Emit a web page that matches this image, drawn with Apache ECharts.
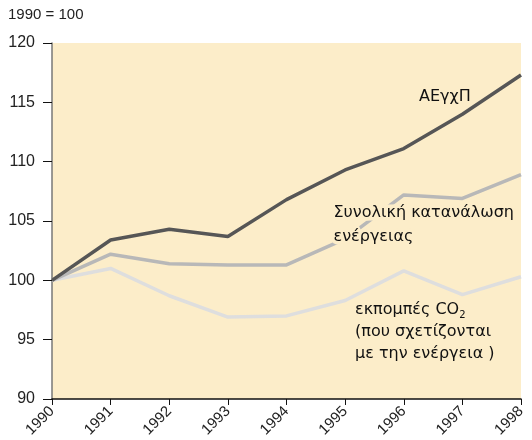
<!DOCTYPE html>
<html>
<head>
<meta charset="utf-8">
<script src="https://cdn.jsdelivr.net/npm/echarts@6/dist/echarts.min.js"></script>
<style>
  html, body { margin: 0; padding: 0; background: #fff; }
  #chart { width: 532px; height: 440px; }
</style>
</head>
<body>
<div id="chart"></div>
<script>
/* δεδομένα (1990 = 100) */
const years = ['1990', '1991', '1992', '1993', '1994', '1995', '1996', '1997', '1998'];
const gdp = [100, 103.4, 104.3, 103.7, 106.8, 109.3, 111.1, 114.0, 117.3];
const energy = [100, 102.2, 101.4, 101.3, 101.3, 103.5, 107.2, 106.9, 108.9];
const co2 = [100, 101.0, 98.7, 96.9, 97.0, 98.3, 100.8, 98.8, 100.3];

const font = '"Liberation Sans", Arial, sans-serif';
const noteFont = '"DejaVu Sans", sans-serif';
const bg = '#fcedc9';

var chart = echarts.init(document.getElementById('chart'));
var option = {
    animation: false,
    textStyle: { fontFamily: font },
    grid: {
        left: 52,
        right: 11,
        top: 43,
        bottom: 41,
        show: true,
        backgroundColor: bg,
        borderWidth: 0
    },
    xAxis: {
        type: 'category',
        boundaryGap: false,
        data: years,
        axisLine: { lineStyle: { color: '#111', width: 1.5 } },
        axisTick: { length: 6, lineStyle: { color: '#111' } },
        axisLabel: { rotate: 45, color: '#222', fontSize: 15, margin: 10, fontFamily: font }
    },
    yAxis: {
        type: 'value',
        min: 90,
        max: 120,
        interval: 5,
        splitLine: { show: false },
        axisLine: { show: true, lineStyle: { color: '#777', width: 1.5 } },
        axisTick: { show: true, length: 9, lineStyle: { color: '#111' } },
        axisLabel: { color: '#222', fontSize: 16, margin: 17, fontFamily: font }
    },
    graphic: [
        { type: 'text', left: 8, top: 7, style: { text: '1990 = 100', fontSize: 15, fill: '#222', fontFamily: font } },
        { type: 'text', left: 419, top: 89, z: 10, style: { text: 'ΑΕγχΠ', fontSize: 16, fill: '#111', fontFamily: noteFont } },
        {
            type: 'text', left: 330, top: 201, z: 10,
            style: {
                text: 'Συνολική κατανάλωση\nενέργειας',
                fontSize: 16, lineHeight: 24, fill: '#111', fontFamily: noteFont,
                stroke: bg, lineWidth: 7
            }
        },
        {
            type: 'text', left: 355, top: 300, z: 10,
            style: {
                text: '{a|εκπομπές CO}{s|2}\n{a|(που σχετίζονται}\n{a|με την ενέργεια )}',
                fill: '#111',
                fontFamily: noteFont,
                rich: {
                    a: { fontSize: 16, lineHeight: 22, fill: '#111', fontFamily: noteFont },
                    s: { fontSize: 10, lineHeight: 22, fill: '#111', padding: [10, 0, 0, 0], fontFamily: noteFont }
                }
            }
        }
    ],
    series: [
        {
            name: 'ΑΕγχΠ',
            type: 'line',
            symbol: 'none',
            data: gdp,
            lineStyle: { color: '#565656', width: 3.5 },
            z: 4
        },
        {
            name: 'Συνολική κατανάλωση ενέργειας',
            type: 'line',
            symbol: 'none',
            data: energy,
            lineStyle: { color: '#b8b8b8', width: 3.5 },
            z: 3
        },
        {
            name: 'εκπομπές CO2',
            type: 'line',
            symbol: 'none',
            data: co2,
            lineStyle: { color: '#dedede', width: 3.5 },
            z: 2
        }
    ]
};
chart.setOption(option);
</script>
</body>
</html>
